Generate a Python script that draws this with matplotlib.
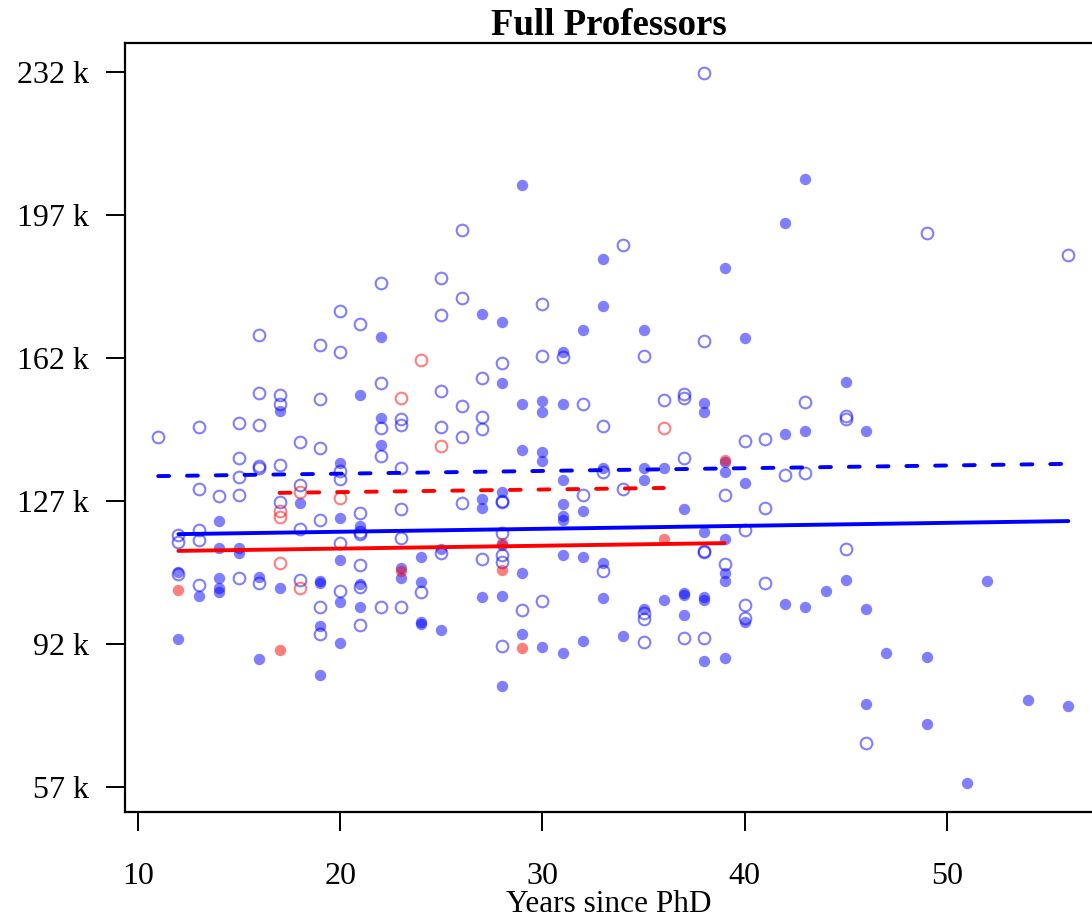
import numpy as np
import matplotlib.pyplot as plt

plt.rcParams['font.family'] = ['Liberation Serif', 'DejaVu Serif']

# salaries in thousands, by sex and discipline (open = applied, filled = theoretical)
men_open_yrs = [11, 12, 12, 12, 13, 13, 13, 13, 13, 14, 15, 15, 15, 15, 15,
                16, 16, 16, 16, 16, 16, 17, 17, 17, 17, 18, 18, 18, 18,
                19, 19, 19, 19, 19, 19, 20, 20, 20, 20, 20, 20,
                21, 21, 21, 21, 21, 21, 21, 22, 22, 22, 22, 22,
                23, 23, 23, 23, 23, 23, 24, 25, 25, 25, 25, 25,
                26, 26, 26, 26, 26, 27, 27, 27, 27, 28, 28, 28, 28, 28, 28, 28,
                29, 30, 30, 30, 31, 32, 32, 33, 33, 33, 34, 34, 35, 35, 35, 35,
                36, 37, 37, 37, 37, 38, 38, 38, 38, 38, 39, 39, 40, 40, 40, 40,
                41, 41, 41, 42, 43, 43, 45, 45, 45, 46, 49, 56]
men_open_sal = [142.7, 118.7, 116.9, 109.1, 145.1, 129.9, 119.9, 117.5, 106.4, 128.3,
                146.1, 137.5, 133.0, 128.6, 108.2,
                167.6, 153.4, 145.6, 135.6, 135.1, 106.9, 152.9, 150.7, 135.8, 126.7,
                141.4, 130.9, 120.2, 107.7,
                165.2, 152.0, 139.9, 122.4, 101.1, 94.5, 173.5, 163.5, 134.3, 132.4, 116.8, 105.1,
                170.3, 124.0, 119.5, 118.9, 111.3, 106.0, 96.7, 180.4, 156.0, 144.8, 138.1, 101.1,
                147.0, 145.6, 135.0, 125.0, 117.9, 101.1, 104.7, 181.6, 172.6, 154.0, 145.2, 114.4,
                193.3, 176.8, 150.3, 142.7, 126.4, 157.2, 147.6, 144.6, 112.8,
                160.7, 127.1, 126.7, 119.1, 113.8, 112.0, 91.6,
                100.3, 175.3, 162.5, 102.5, 162.3, 150.7, 128.6, 145.4, 134.2, 109.9,
                189.7, 129.9, 162.5, 99.5, 98.1, 92.6,
                151.7, 153.2, 152.2, 137.6, 93.4, 231.8, 166.2, 114.8, 114.5, 93.6,
                128.5, 111.6, 141.8, 119.9, 101.6, 98.4,
                142.2, 125.4, 106.9, 133.4, 151.2, 133.9, 147.9, 147.0, 115.2, 67.7, 192.5, 187.2]

men_filled_yrs = [12, 12, 13, 14, 14, 14, 14, 14, 15, 15, 16, 16, 17, 17, 18,
                  19, 19, 19, 19, 20, 20, 20, 20, 20, 21, 21, 21, 21, 22, 22, 22,
                  23, 23, 24, 24, 24, 24, 25, 25, 27, 27, 27, 27,
                  28, 28, 28, 28, 28, 28, 29, 29, 29, 29, 29, 30, 30, 30, 30, 30,
                  31, 31, 31, 31, 31, 31, 31, 31, 32, 32, 32, 32, 33, 33, 33, 33, 33,
                  34, 35, 35, 35, 35, 36, 36, 37, 37, 37, 37,
                  38, 38, 38, 38, 38, 38, 39, 39, 39, 39, 39, 39, 39,
                  40, 40, 40, 42, 42, 42, 43, 43, 43, 44, 45, 45, 46, 46, 46,
                  47, 49, 49, 51, 52, 54, 56]
men_filled_sal = [109.7, 93.2, 103.8, 122.1, 115.6, 108.2, 105.6, 104.7, 115.6, 114.4,
                  108.5, 88.3, 149.0, 105.8, 126.6,
                  107.4, 106.9, 96.4, 84.4, 136.3, 122.8, 112.6, 102.2, 92.2,
                  152.9, 121.0, 106.7, 101.1, 167.1, 147.4, 140.7,
                  110.6, 108.2, 113.2, 107.3, 97.5, 96.8, 115.2, 95.4, 172.8, 127.5, 125.4, 103.4,
                  170.7, 155.8, 129.1, 116.2, 103.8, 81.8, 204.3, 150.7, 139.5, 109.5, 94.5,
                  151.6, 148.7, 139.1, 136.9, 91.3,
                  163.4, 150.7, 132.1, 126.2, 123.3, 122.4, 113.8, 89.7, 168.8, 124.6, 113.4, 92.7,
                  186.3, 174.8, 135.0, 111.8, 103.2,
                  94.0, 168.9, 135.0, 132.1, 100.5, 135.0, 102.8, 125.0, 104.4, 104.0, 99.1,
                  151.0, 148.9, 119.5, 103.6, 102.9, 87.9, 184.1, 136.6, 134.2, 117.7, 109.3, 107.5, 88.7,
                  166.8, 131.5, 97.5, 195.1, 143.4, 101.8, 205.8, 144.2, 101.1, 105.1, 156.1, 107.7,
                  144.2, 100.7, 77.3, 89.7, 88.8, 72.4, 57.9, 107.4, 78.3, 76.9]

women_open_yrs = [17, 17, 17, 18, 18, 20, 23, 24, 25, 36]
women_open_sal = [124.6, 123.2, 111.8, 129.1, 105.6, 127.7, 152.2, 161.4, 140.4, 144.9]

women_filled_yrs = [12, 17, 23, 28, 28, 29, 36, 39]
women_filled_sal = [105.2, 90.5, 109.9, 116.7, 110.1, 91.1, 117.8, 137.0]

# fitted lines (start/end years and salaries)
men_a_fit = ([12, 56], [118.9, 122.1])
men_b_fit = ([11, 56], [133.1, 136.1])
women_a_fit = ([12, 39], [114.8, 116.7])
women_b_fit = ([17, 36], [129.0, 130.2])

y_ticks = [57, 92, 127, 162, 197, 232]
x_ticks = [10, 20, 30, 40, 50]


def plot_figure():
    fig = plt.figure(figsize=(10.92, 9.22), dpi=100)
    ax = fig.add_axes([0.1145, 0.1193, 0.8855, 0.8341])

    ms_open, ms_fill = 8.4, 8.2
    ax.plot(men_open_yrs, men_open_sal, 'o', ms=ms_open, mfc='none', mec='blue',
            mew=1.5, alpha=0.5, linestyle='none')
    ax.plot(men_filled_yrs, men_filled_sal, 'o', ms=ms_fill, mfc='blue', mec='none',
            alpha=0.5, linestyle='none')
    ax.plot(women_open_yrs, women_open_sal, 'o', ms=ms_open, mfc='none', mec='red',
            mew=1.5, alpha=0.5, linestyle='none')
    ax.plot(women_filled_yrs, women_filled_sal, 'o', ms=ms_fill, mfc='red', mec='none',
            alpha=0.5, linestyle='none')

    lw = 2.8
    dash = (0, (2.8, 4.6))
    ax.plot(*men_a_fit, color='blue', lw=lw, solid_capstyle='round')
    ax.plot(*men_b_fit, color='blue', lw=lw, linestyle=dash, dash_capstyle='round')
    ax.plot(*women_a_fit, color='red', lw=lw, solid_capstyle='round')
    ax.plot(*women_b_fit, color='red', lw=lw, linestyle=dash, dash_capstyle='round')

    ax.set_xlim(9.36, 57.17)
    ax.set_ylim(50.9, 239.1)
    ax.set_xticks(x_ticks)
    ax.set_yticks(y_ticks)
    ax.set_yticklabels([f'{v} k' for v in y_ticks])
    ax.tick_params(axis='both', direction='out', length=14, width=1.4,
                   labelsize=23)
    ax.tick_params(axis='x', pad=22)
    ax.tick_params(axis='y', pad=12)
    for side in ('left', 'bottom', 'top'):
        ax.spines[side].set_linewidth(1.6)
    ax.spines['right'].set_visible(False)

    ax.set_xlabel('Years since PhD', fontsize=22.5, labelpad=-1)
    ax.set_title('Full Professors', fontsize=26.5, fontweight='bold', pad=2)

    fig.savefig('out.png', dpi=100)


if __name__ == '__main__':
    plot_figure()
